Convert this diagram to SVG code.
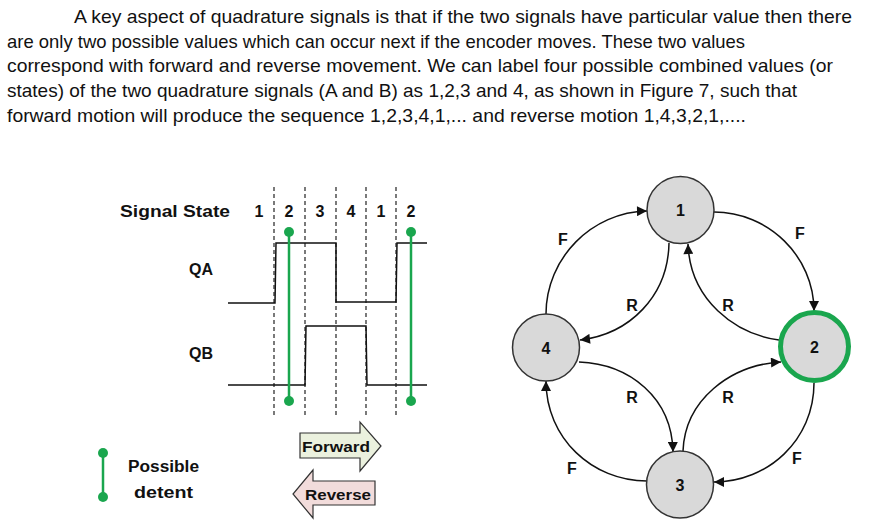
<svg xmlns="http://www.w3.org/2000/svg" width="869" height="530" viewBox="0 0 869 530">
<defs>
<style>
.para{font-family:"Liberation Sans",Arial,sans-serif;font-size:19px;fill:#111}
.b{font-family:"Liberation Sans",Arial,sans-serif;font-weight:bold;fill:#111}
.dash{stroke:#222;stroke-width:1.2;stroke-dasharray:4,3;fill:none}
.wave{stroke:#111;stroke-width:1.5;fill:none}
.grn{stroke:#1aa64e;stroke-width:2.5;fill:none}
.dot{fill:#1aa64e}
.node{fill:#d9d9d9;stroke:#333;stroke-width:1.5}
.hl{stroke:#1aa64e;stroke-width:5}
.edge{stroke:#111;stroke-width:1.5;fill:none;marker-end:url(#ah)}
</style>
<marker id="ah" viewBox="0 0 10 10" refX="10" refY="5" markerWidth="11" markerHeight="10" markerUnits="userSpaceOnUse" orient="auto">
<path d="M0,0 L10,5 L0,10 z" fill="#111"/>
</marker>
</defs>
<rect width="869" height="530" fill="#fff"/>
<g id="paragraph">
<text class="para" x="74" y="23" textLength="778" lengthAdjust="spacingAndGlyphs">A key aspect of quadrature signals is that if the two signals have particular value then there</text>
<text class="para" x="7" y="47.7" textLength="738" lengthAdjust="spacingAndGlyphs">are only two possible values which can occur next if the encoder moves. These two values</text>
<text class="para" x="7" y="72.4" textLength="826" lengthAdjust="spacingAndGlyphs">correspond with forward and reverse movement. We can label four possible combined values (or</text>
<text class="para" x="7" y="97" textLength="790" lengthAdjust="spacingAndGlyphs">states) of the two quadrature signals (A and B) as 1,2,3 and 4, as shown in Figure 7, such that</text>
<text class="para" x="7" y="121.7" textLength="739" lengthAdjust="spacingAndGlyphs">forward motion will produce the sequence 1,2,3,4,1,... and reverse motion 1,4,3,2,1,....</text>
</g>
<g id="waveform">
<text class="b" x="120" y="217" font-size="16" textLength="110" lengthAdjust="spacingAndGlyphs">Signal State</text>
<g class="b" font-size="16" text-anchor="middle">
<text x="259" y="217">1</text><text x="289" y="217">2</text><text x="320" y="217">3</text><text x="351" y="217">4</text><text x="381" y="217">1</text><text x="411" y="217">2</text>
</g>
<text class="b" x="189" y="275" font-size="16">QA</text>
<text class="b" x="189" y="359" font-size="16">QB</text>
<g class="dash">
<line x1="274" y1="187" x2="274" y2="415"/>
<line x1="305" y1="187" x2="305" y2="415"/>
<line x1="336" y1="187" x2="336" y2="415"/>
<line x1="366" y1="187" x2="366" y2="415"/>
<line x1="396" y1="187" x2="396" y2="415"/>
</g>
<polyline class="wave" points="228,303 275,303 276,243 336,243 336,302 396,302 397,243 427,243"/>
<polyline class="wave" points="228,385 305,385 306,326 366,326 367,385 427,385"/>
<line class="grn" x1="289" y1="232" x2="289" y2="401"/>
<line class="grn" x1="411" y1="232" x2="411" y2="401"/>
<circle class="dot" cx="289" cy="232" r="5"/><circle class="dot" cx="289" cy="401" r="5"/>
<circle class="dot" cx="411" cy="232" r="5"/><circle class="dot" cx="411" cy="401" r="5"/>
</g>
<g id="legend">
<line class="grn" x1="103" y1="453" x2="103" y2="497"/>
<circle class="dot" cx="103" cy="453" r="5"/><circle class="dot" cx="103" cy="497" r="5"/>
<text class="b" x="128" y="472" font-size="16" textLength="71" lengthAdjust="spacingAndGlyphs">Possible</text>
<text class="b" x="134" y="498" font-size="16" textLength="59" lengthAdjust="spacingAndGlyphs">detent</text>
</g>
<g id="forward">
<path d="M300,433 L360,433 L360,422 L381,446 L360,471 L360,458 L300,458 Z" fill="#ebf1de" stroke="#333" stroke-width="1.2"/>
<text class="b" x="302" y="452" font-size="15" textLength="68" lengthAdjust="spacingAndGlyphs">Forward</text>
</g>
<g id="reverse">
<path d="M375,481 L313,481 L313,470 L293,494 L313,518 L313,505 L375,505 Z" fill="#f2dcdb" stroke="#333" stroke-width="1.2"/>
<text class="b" x="305" y="500" font-size="15" textLength="66" lengthAdjust="spacingAndGlyphs">Reverse</text>
</g>
<g id="connectors">
<path class="edge" d="M714,212 C768,212 814,256 814,311"/>
<path class="edge" d="M779,340 C735,334 690,300 688,244"/>
<path class="edge" d="M669,243 C668,296 630,334 580,340"/>
<path class="edge" d="M546,314 C546,258 592,212 647,211"/>
<path class="edge" d="M579,362 C630,364 672,398 673,452"/>
<path class="edge" d="M683,451 C685,400 730,365 781,362"/>
<path class="edge" d="M814,383 C814,440 768,482 714,482"/>
<path class="edge" d="M647,481 C592,481 546,438 546,381"/>
<g class="b" font-size="16" text-anchor="middle">
<text x="800" y="239">F</text>
<text x="728" y="311">R</text>
<text x="632" y="311">R</text>
<text x="563" y="245">F</text>
<text x="632" y="403">R</text>
<text x="728" y="403">R</text>
<text x="797" y="464">F</text>
<text x="572" y="474">F</text>
</g>
</g>
<g id="node1"><circle class="node" cx="680.5" cy="210" r="33.5"/><text class="b" x="680.5" y="216" font-size="16" text-anchor="middle">1</text></g>
<g id="node2"><circle class="node hl" cx="814.5" cy="346.5" r="34"/><text class="b" x="814.5" y="352.5" font-size="16" text-anchor="middle">2</text></g>
<g id="node3"><circle class="node" cx="680" cy="484.5" r="33.5"/><text class="b" x="680" y="490.5" font-size="16" text-anchor="middle">3</text></g>
<g id="node4"><circle class="node" cx="546" cy="347.5" r="33.5"/><text class="b" x="546" y="353.5" font-size="16" text-anchor="middle">4</text></g>
</svg>
